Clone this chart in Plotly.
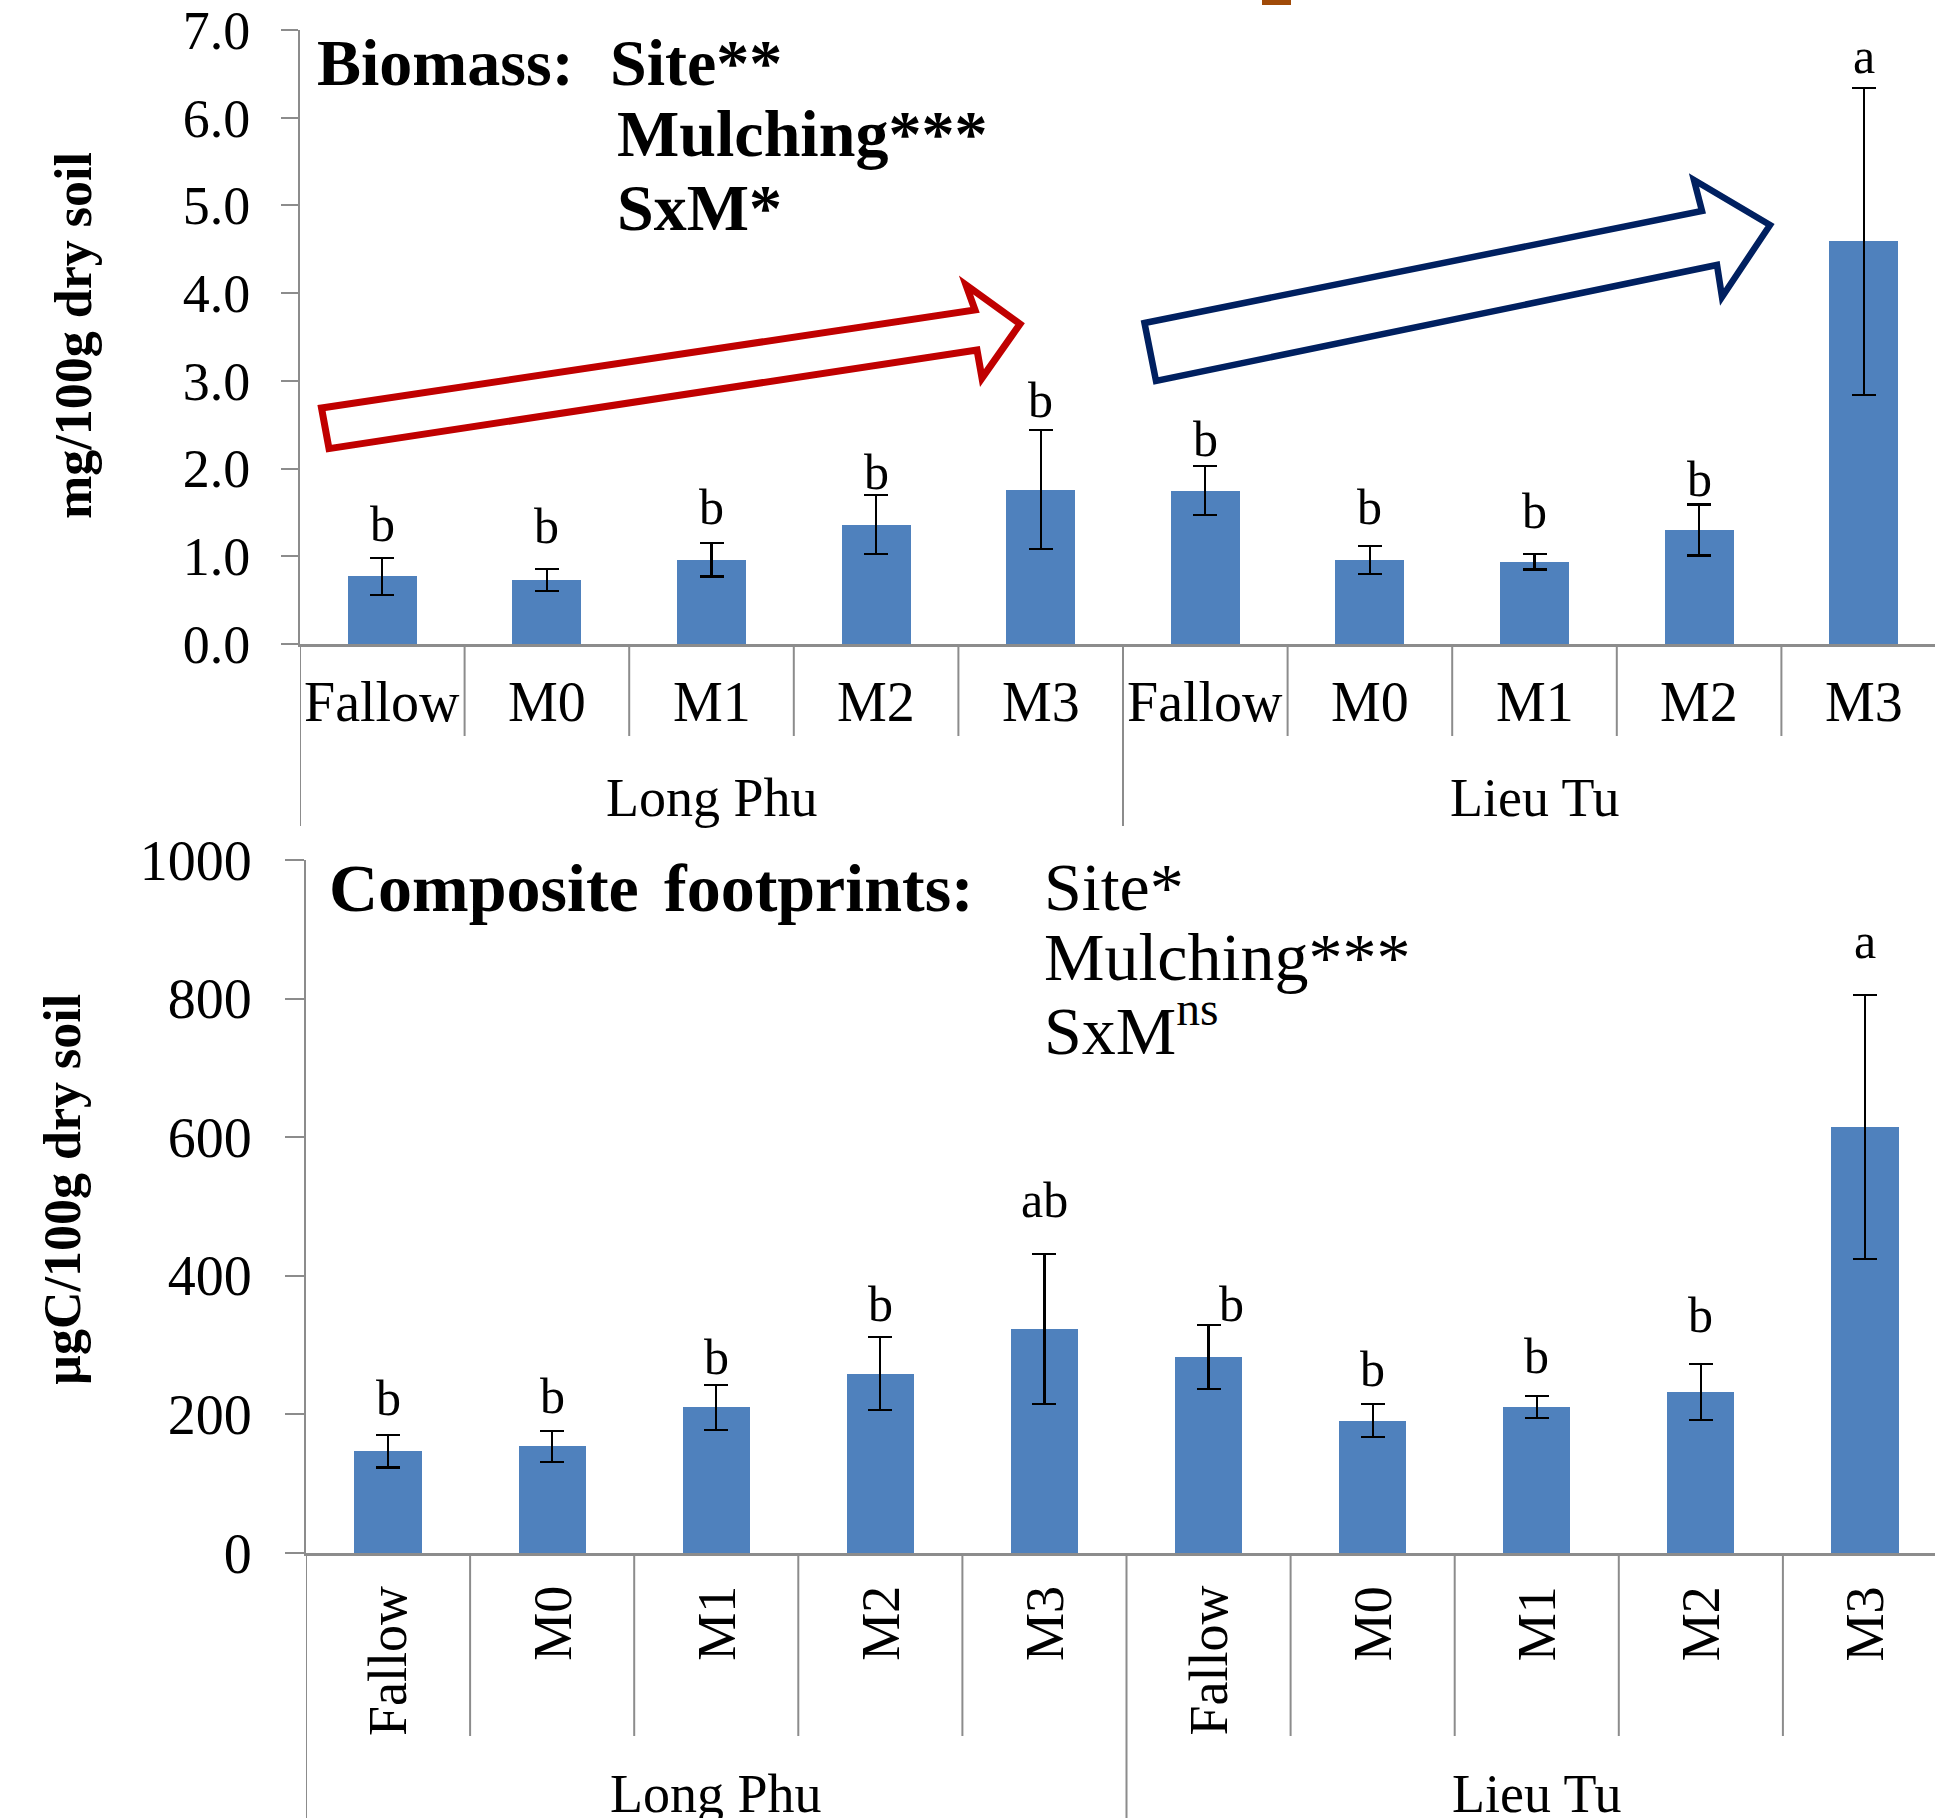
import plotly.graph_objects as go
import numpy as np

# ---------------- data ----------------
sites = ["Long Phu", "Lieu Tu"]
treatments = ["Fallow", "M0", "M1", "M2", "M3"]
categories = treatments * 2

biomass_mean = [0.77, 0.73, 0.96, 1.36, 1.76, 1.75, 0.96, 0.94, 1.30, 4.59]
biomass_err = [0.21, 0.125, 0.19, 0.335, 0.68, 0.275, 0.16, 0.09, 0.29, 1.75]
biomass_letters = ["b", "b", "b", "b", "b", "b", "b", "b", "b", "a"]

footprint_mean = [147, 154, 210, 259, 323, 283, 191, 211, 232, 615]
footprint_err = [23.5, 22.5, 33, 53, 108.5, 46, 24, 16, 40.5, 190.5]
footprint_letters = ["b", "b", "b", "b", "ab", "b", "b", "b", "b", "a"]

biomass_ticks = [0, 1, 2, 3, 4, 5, 6, 7]
footprint_ticks = [0, 200, 400, 600, 800, 1000]

# ---------------- layout helpers ----------------
W, H = 1935, 1818
FONT = "Liberation Serif"
BAR = "#4F81BD"
AX = "#8C8C8C"

# pixel nudges of the significance letters (layout only)
top_letter_dy = [1, 10, 3, -10, -3, -6, 6, 10, -7, -1]
bot_letter_dy = [4, 2, -5, 0, 21, -12, 2, 7, 16, 21]
bot_letter_dx = [0, 0, 0, 0, 0, 23, 0, 0, 0, 0]


def px(x):
    return x / W


def py(y):
    return 1 - y / H


x = np.arange(len(categories))

fig = go.Figure()
fig.add_trace(go.Bar(
    x=x, y=biomass_mean, width=0.42, marker=dict(color=BAR, line=dict(width=0)),
    error_y=dict(type="data", array=biomass_err, color="black", thickness=2.2, width=12),
    xaxis="x", yaxis="y", showlegend=False))
fig.add_trace(go.Bar(
    x=x, y=footprint_mean, width=0.41, marker=dict(color=BAR, line=dict(width=0)),
    error_y=dict(type="data", array=footprint_err, color="black", thickness=2.2, width=12),
    xaxis="x2", yaxis="y2", showlegend=False))

# panel geometry (pixels)
T_left, T_zero, T_top = 300, 644, 30
T_cat = 164.6
B_left, B_zero, B_top = 306, 1553, 860
B_cat = 164.1

axis_common = dict(showgrid=False, zeroline=False, automargin=False)

fig.update_layout(
    width=W, height=H, template="none",
    margin=dict(l=0, r=0, t=0, b=0),
    paper_bgcolor="white", plot_bgcolor="white",
    bargap=0,
    xaxis=dict(domain=[px(T_left), 1], range=[-0.5, -0.5 + (W - T_left) / T_cat],
               anchor="y", showticklabels=False, ticks="", showline=True,
               linecolor=AX, linewidth=2.5, **axis_common),
    yaxis=dict(domain=[py(T_zero), py(T_top)], range=[0, 7], anchor="x",
               tickvals=biomass_ticks, tickformat=".1f", ticks="outside",
               ticklen=17, tickwidth=2, tickcolor=AX, showline=True,
               linecolor=AX, linewidth=2, ticklabelstandoff=20,
               tickfont=dict(family=FONT, size=54, color="black"), **axis_common),
    xaxis2=dict(domain=[px(B_left), 1], range=[-0.5, -0.5 + (W - B_left) / B_cat],
                anchor="y2", showticklabels=False, ticks="", showline=True,
                linecolor=AX, linewidth=2.5, **axis_common),
    yaxis2=dict(domain=[py(B_zero), py(B_top)], range=[0, 1000], anchor="x2",
                tickvals=footprint_ticks, ticks="outside",
                ticklen=19, tickwidth=2, tickcolor=AX, showline=True,
                linecolor=AX, linewidth=2, ticklabelstandoff=22,
                tickfont=dict(family=FONT, size=56, color="black"), **axis_common),
)

shapes = []
ann = []

# category dividers and group dividers
for k in range(len(categories) + 1):
    xb = k - 0.5
    is_group = (k % len(treatments) == 0)
    shapes.append(dict(type="line", xref="x", yref="paper", x0=xb, x1=xb,
                       y0=py(T_zero), y1=py(826 if is_group else 736),
                       line=dict(color=AX, width=2)))
    shapes.append(dict(type="line", xref="x2", yref="paper", x0=xb, x1=xb,
                       y0=py(B_zero), y1=py(H + 5 if is_group else 1736),
                       line=dict(color=AX, width=2)))

# category labels
for i, c in enumerate(categories):
    ann.append(dict(x=i, y=py(702), xref="x", yref="paper", text=c, showarrow=False,
                    xanchor="center", yanchor="middle",
                    font=dict(family=FONT, size=56, color="black")))
    ann.append(dict(x=i, y=py(1584), xref="x2", yref="paper", text=c, showarrow=False,
                    textangle=-90, xanchor="center", yanchor="top",
                    font=dict(family=FONT, size=54, color="black")))

# group labels
for g, s in enumerate(sites):
    xc = g * len(treatments) + (len(treatments) - 1) / 2
    ann.append(dict(x=xc, y=py(798), xref="x", yref="paper", text=s, showarrow=False,
                    xanchor="center", yanchor="middle",
                    font=dict(family=FONT, size=54, color="black")))
    ann.append(dict(x=xc, y=py(1794), xref="x2", yref="paper", text=s, showarrow=False,
                    xanchor="center", yanchor="middle",
                    font=dict(family=FONT, size=54, color="black")))

# significance letters
for i, (m, e, l) in enumerate(zip(biomass_mean, biomass_err, biomass_letters)):
    ann.append(dict(x=i, y=m + e, xref="x", yref="y", text=l, showarrow=False,
                    xanchor="center", yanchor="bottom", yshift=3 + top_letter_dy[i],
                    font=dict(family=FONT, size=50, color="black")))
for i, (m, e, l) in enumerate(zip(footprint_mean, footprint_err, footprint_letters)):
    ann.append(dict(x=i, y=m + e, xref="x2", yref="y2", text=l, showarrow=False,
                    xanchor="center", yanchor="bottom", yshift=3 + bot_letter_dy[i],
                    xshift=bot_letter_dx[i],
                    font=dict(family=FONT, size=50, color="black")))

# axis titles
ann.append(dict(x=px(73), y=py(336), xref="paper", yref="paper",
                text="<b>mg/100g dry soil</b>", textangle=-90, showarrow=False,
                xanchor="center", yanchor="middle",
                font=dict(family=FONT, size=52, color="black")))
ann.append(dict(x=px(62), y=py(1190), xref="paper", yref="paper",
                text="<b>µgC/100g dry soil</b>", textangle=-90, showarrow=False,
                xanchor="center", yanchor="middle",
                font=dict(family=FONT, size=52, color="black")))


# statistics text blocks
def txt(xp, yp, t, size=66):
    ann.append(dict(x=px(xp), y=py(yp), xref="paper", yref="paper", text=t,
                    showarrow=False, xanchor="left", yanchor="middle",
                    font=dict(family=FONT, size=size, color="black")))


txt(315, 62, "<b>Biomass:</b>")
txt(608, 62, "<b>Site**</b>")
txt(615, 134, "<b>Mulching***</b>")
txt(615, 208, "<b>SxM*</b>")

txt(327, 888, "<b>Composite</b>", 68)
txt(662, 888, "<b>footprints:</b>", 68)
txt(1042, 887, "Site*", 68)
txt(1042, 957, "Mulching***", 68)
txt(1042, 1026, "SxM<sup>ns</sup>", 68)


# block arrows (decoration)
def poly(points):
    return "M " + " L ".join(f"{px(a):.5f},{py(b):.5f}" for a, b in points) + " Z"


red_arrow = [(321.5, 408), (975, 310), (966, 285), (1020, 324), (982, 378), (977, 350), (329, 448.6)]
blue_arrow = [(1144.5, 323), (1702, 211), (1694, 180), (1770, 225), (1722, 297), (1717, 265), (1156, 381)]
shapes.append(dict(type="path", xref="paper", yref="paper", path=poly(red_arrow),
                   line=dict(color="#C00000", width=7), fillcolor="white"))
shapes.append(dict(type="path", xref="paper", yref="paper", path=poly(blue_arrow),
                   line=dict(color="#002060", width=6.5), fillcolor="white"))

# small cropped fragment at top edge
shapes.append(dict(type="rect", xref="paper", yref="paper",
                   x0=px(1262), x1=px(1291), y0=py(5), y1=py(-2),
                   line=dict(width=0), fillcolor="#A04A08"))

fig.update_layout(shapes=shapes, annotations=ann)
fig.write_html("out.html", config={"displayModeBar": False},
               post_script="document.body.style.margin='0';document.body.style.overflow='hidden';")
